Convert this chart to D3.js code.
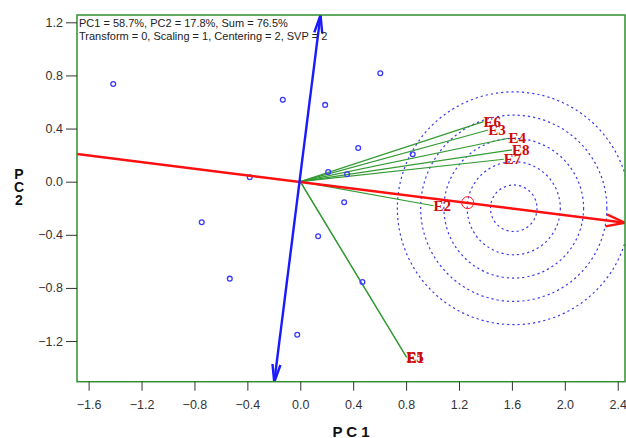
<!DOCTYPE html>
<html><head><meta charset="utf-8">
<script src="https://cdn.jsdelivr.net/npm/d3@7"></script>
<style>body{margin:0;background:#fff;} svg{display:block;}</style>
</head><body>
<svg id="c" width="626" height="438"></svg>
<script>
// ---- data ----
const xTicks = [-1.6,-1.2,-0.8,-0.4,0.0,0.4,0.8,1.2,1.6,2.0,2.4];
const yTicks = [-1.2,-0.8,-0.4,0.0,0.4,0.8,1.2];
const genoX = [-1.414,-0.132,0.188,0.605,0.438,0.850,0.211,0.354,-0.382,0.332,-0.745,0.135,-0.533,0.470,-0.023];
const genoY = [0.736,0.616,0.578,0.816,0.254,0.206,0.073,0.056,0.033,-0.155,-0.306,-0.411,-0.730,-0.755,-1.152];
const envNames = ["E6","E3","E4","E8","E7","E2","E5","E1"];
const envX = [1.386,1.421,1.574,1.600,1.538,1.008,0.801,0.805];
const envY = [0.452,0.389,0.327,0.239,0.169,-0.181,-1.318,-1.324];
const aeaLine = [[-1.690,0.209],[2.455,-0.309]];   // average environment axis
const ateLine = [[-0.197,-1.511],[0.153,1.255]];   // perpendicular axis
const idealCenter = [1.614,-0.200];
const ringRadii = [0.176,0.352,0.528,0.704,0.880];
const aecMean = [1.266,-0.158];
const infoLines = ["PC1 = 58.7%, PC2 = 17.8%, Sum = 76.5%","Transform = 0, Scaling = 1, Centering = 2, SVP = 2"];

// ---- layout ----
const L=77, R=625, T=15, B=381.7;
const x = d3.scaleLinear().domain([-1.688,2.455]).range([L,R]);
const y = d3.scaleLinear().domain([-1.506,1.255]).range([B,T]);
const svg = d3.select("#c");

const defs = svg.append("defs");
defs.append("clipPath").attr("id","clip").append("rect").attr("x",L).attr("y",T).attr("width",R-L).attr("height",B-T);
const g = svg.append("g").attr("clip-path","url(#clip)");

// rings
g.selectAll("circle.ring").data(ringRadii).enter().append("circle")
  .attr("cx",x(idealCenter[0])).attr("cy",y(idealCenter[1]))
  .attr("r",d=>x(d)-x(0))
  .attr("fill","none").attr("stroke","#3b3bf0").attr("stroke-width",1.2)
  .attr("stroke-dasharray","2.2,3");

// environment vectors
g.selectAll("line.env").data(envNames).enter().append("line")
  .attr("x1",x(0)).attr("y1",y(0))
  .attr("x2",(d,i)=>x(envX[i])).attr("y2",(d,i)=>y(envY[i]))
  .attr("stroke","#349a34").attr("stroke-width",1.2);

// genotype points
g.selectAll("circle.geno").data(genoX).enter().append("circle")
  .attr("cx",d=>x(d)).attr("cy",(d,i)=>y(genoY[i])).attr("r",2.4)
  .attr("fill","none").attr("stroke","#3a3aff").attr("stroke-width",1.3);

function arrowLine(pts,color,wid,headLen,headW,bothEnds){
  const p0=[x(pts[0][0]),y(pts[0][1])], p1=[x(pts[1][0]),y(pts[1][1])];
  g.append("line").attr("x1",p0[0]).attr("y1",p0[1]).attr("x2",p1[0]).attr("y2",p1[1])
   .attr("stroke",color).attr("stroke-width",wid);
  const heads = bothEnds?[[p0,p1],[p1,p0]]:[[p0,p1]];
  heads.forEach(([a,b])=>{
    const dx=b[0]-a[0], dy=b[1]-a[1], len=Math.hypot(dx,dy), ux=dx/len, uy=dy/len;
    const bx=b[0]-ux*headLen, by=b[1]-uy*headLen;
    const w1=[bx-uy*headW,by+ux*headW], w2=[bx+uy*headW,by-ux*headW];
    g.append("path").attr("d",`M${w1[0]},${w1[1]}L${b[0]},${b[1]}L${w2[0]},${w2[1]}`)
     .attr("fill","none").attr("stroke",color).attr("stroke-width",wid).attr("stroke-linejoin","miter");
  });
}
arrowLine(aeaLine,"#ff1010",2.4,19,6,false);
arrowLine(ateLine,"#1a1aff",2.4,18,4,true);

// AEC mean circle
g.append("circle").attr("cx",x(aecMean[0])).attr("cy",y(aecMean[1])).attr("r",6)
 .attr("fill","none").attr("stroke","#ff2020").attr("stroke-width",1);

// env labels
svg.selectAll("text.env").data(envNames).enter().append("text")
  .attr("x",(d,i)=>x(envX[i])).attr("y",(d,i)=>y(envY[i])+5)
  .attr("font-family","'Liberation Serif','Times New Roman',serif").attr("font-weight","bold")
  .attr("font-size",15).attr("fill","#cc0a0a").text(d=>d);

// frame
svg.append("rect").attr("x",L).attr("y",T).attr("width",R-L).attr("height",B-T)
  .attr("fill","none").attr("stroke","#2f8f2f").attr("stroke-width",1.5);

// axes
const fmt = d3.format(".1f");
const xa = svg.append("g").attr("transform",`translate(0,${B})`)
  .call(d3.axisBottom(x).tickValues(xTicks).tickFormat(fmt).tickSize(9).tickPadding(9));
const ya = svg.append("g").attr("transform",`translate(${L},0)`)
  .call(d3.axisLeft(y).tickValues(yTicks).tickFormat(fmt).tickSize(11).tickPadding(3));
[xa,ya].forEach(a=>{
  a.select(".domain").remove();
  a.selectAll("line").attr("stroke","#333");
  a.selectAll("text").attr("font-family","Arial,'Liberation Sans',sans-serif").attr("font-size",12.5).attr("fill","#333");
});

// info text
svg.selectAll("text.info").data(infoLines).enter().append("text")
  .attr("x",79).attr("y",(d,i)=>26.5+i*13.2)
  .attr("font-family","Arial,'Liberation Sans',sans-serif").attr("font-size",11).attr("fill","#222").text(d=>d);

// axis titles
svg.append("text").attr("x",351).attr("y",436.5).attr("text-anchor","middle")
  .attr("font-family","Arial,'Liberation Sans',sans-serif").attr("font-weight","bold").attr("font-size",15)
  .attr("fill","#111").text("P C 1");
const yt = svg.append("text").attr("text-anchor","middle")
  .attr("font-family","Arial,'Liberation Sans',sans-serif").attr("font-weight","bold").attr("font-size",14).attr("fill","#111");
["P","C","2"].forEach((c,i)=>yt.append("tspan").attr("x",19).attr("y",178.5+i*13).text(c));
</script>
</body></html>
